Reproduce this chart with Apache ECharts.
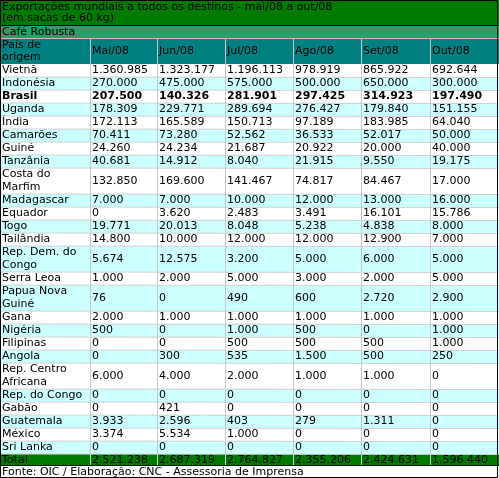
<!DOCTYPE html>
<html><head><meta charset="utf-8">
<script src="https://cdn.jsdelivr.net/npm/echarts@6/dist/echarts.min.js"></script>
<style>html,body{margin:0;padding:0;background:#fff}#c{width:499px;height:478px}</style>
</head><body><div id="c"></div>
<script>
const title1 = 'Exportações mundiais a todos os destinos - mai/08 a out/08';
const title2 = '(em sacas de 60 kg)';
const subtitle = 'Café Robusta';
const headerFirst = ['País de', 'origem'];
const months = ['Mai/08','Jun/08','Jul/08','Ago/08','Set/08','Out/08'];
const countries = [['Vietnã'],['Indonésia'],['Brasil'],['Uganda'],['Índia'],['Camarões'],['Guiné'],['Tanzânia'],['Costa do','Marfim'],['Madagascar'],['Equador'],['Togo'],['Tailândia'],['Rep. Dem. do','Congo'],['Serra Leoa'],['Papua Nova','Guiné'],['Gana'],['Nigéria'],['Filipinas'],['Angola'],['Rep. Centro','Africana'],['Rep. do Congo'],['Gabão'],['Guatemala'],['México'],['Sri Lanka']];
const values = [
[1360985,1323177,1196113,978919,865922,692644],
[270000,475000,575000,500000,650000,300000],
[207500,140326,281901,297425,314923,197490],
[178309,229771,289694,276427,179840,151155],
[172113,165589,150713,97189,183985,64040],
[70411,73280,52562,36533,52017,50000],
[24260,24234,21687,20922,20000,40000],
[40681,14912,8040,21915,9550,19175],
[132850,169600,141467,74817,84467,17000],
[7000,7000,10000,12000,13000,16000],
[0,3620,2483,3491,16101,15786],
[19771,20013,8048,5238,4838,8000],
[14800,10000,12000,12000,12900,7000],
[5674,12575,3200,5000,6000,5000],
[1000,2000,5000,3000,2000,5000],
[76,0,490,600,2720,2900],
[2000,1000,1000,1000,1000,1000],
[500,0,1000,500,0,1000],
[0,0,500,500,500,1000],
[0,300,535,1500,500,250],
[6000,4000,2000,1000,1000,0],
[0,0,0,0,0,0],
[0,421,0,0,0,0],
[3933,2596,403,279,1311,0],
[3374,5534,1000,0,0,0],
[0,0,0,0,0,0]];
const totals = [2521238,2687319,2764827,2355206,2424631,1596440];
const source = 'Fonte: OIC / Elaboração: CNC - Assessoria de Imprensa';

const fmt = v => v.toString().replace(/\B(?=(\d{3})+(?!\d))/g, '.');
const FONT = '11px "DejaVu Sans"';
const colX = [1,90,157,225,293,361,430,497];
const g = [];
function rect(x,y,w,h,fill){g.push({type:'rect',shape:{x,y,width:w,height:h},style:{fill}});}
function text(x,y,t,opt){g.push({type:'text',x,y,style:Object.assign({text:t,font:FONT,fill:'#000',textVerticalAlign:'middle'},opt||{})});}
function line(x1,y1,x2,y2,c){g.push({type:'line',shape:{x1,y1,x2,y2},style:{stroke:c,lineWidth:1}});}

// title
rect(0,0,499,25,'#007a00');
text(2,7,title1); text(2,18,title2);
rect(0,25,499,13,'#339966');
text(2,32,subtitle);
rect(0,38,499,26,'#008080');
text(2,45,headerFirst[0]); text(2,57,headerFirst[1]);
months.forEach((m,i)=>text(colX[i+1]+2,51,m));
line(0,25.5,499,25.5,'#000'); line(0,38.5,499,38.5,'#c0c0c0');
let y = 64;
const rowBounds=[];
countries.forEach((c,r)=>{
  const h = c.length*13;
  rect(0,y,499,h, r%2 ? '#ccffff' : '#ffffff');
  const bold = c[0]==='Brasil';
  const opt = bold ? {font:'bold 11px "DejaVu Sans"'} : {};
  c.forEach((s,k)=>text(2,y+6.5+k*13,s,opt));
  values[r].forEach((v,i)=>text(colX[i+1]+2,y+h/2,fmt(v),opt));
  y+=h; rowBounds.push(y);
});
rect(0,y,499,11,'#007a00');
text(2,y+6,'Total');
totals.forEach((v,i)=>text(colX[i+1]+2,y+6,fmt(v)));
const tEnd=y+11;
rowBounds.forEach(b=>line(0,b-0.5+0.5,499,b+0.5,'#d0d0d0'));
for(let i=1;i<7;i++) line(colX[i]+0.5,38,colX[i]+0.5,tEnd,'#c8c8c8');
text(2,tEnd+7,source);
line(0,tEnd+0.5,499,tEnd+0.5,'#000');
g.push({type:'rect',shape:{x:0.5,y:0.5,width:497,height:477},style:{fill:'none',stroke:'#000',lineWidth:1}});

const chart = echarts.init(document.getElementById('c'));
chart.setOption({animation:false,graphic:{elements:g}});
</script></body></html>
